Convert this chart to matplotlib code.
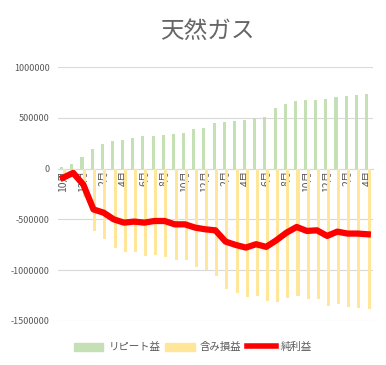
import numpy as np
import matplotlib
matplotlib.use('Agg')
import matplotlib.pyplot as plt
from matplotlib.patches import Patch
from matplotlib.lines import Line2D

plt.rcParams['font.family'] = ['Noto Sans CJK JP', 'DejaVu Sans']

# months, Oct -> Apr (31 months)
months = ['10月', '11月', '12月', '1月', '2月', '3月', '4月', '5月', '6月', '7月', '8月', '9月',
          '10月', '11月', '12月', '1月', '2月', '3月', '4月', '5月', '6月', '7月', '8月', '9月',
          '10月', '11月', '12月', '1月', '2月', '3月', '4月']

# リピート益
repeat = [20000, 50000, 118000, 196000, 245000, 277000, 287000, 297000, 324000, 324000,
          336000, 346000, 356000, 392000, 402000, 454000, 464000, 474000, 483000, 500000,
          510000, 601000, 640000, 669000, 679000, 679000, 689000, 709000, 718000, 728000,
          738000]

# 含み損益
unrealized = [-110000, -92000, -275000, -615000, -689000, -787000, -826000, -826000, -865000,
              -855000, -875000, -904000, -904000, -973000, -997000, -1062000, -1186000,
              -1228000, -1268000, -1258000, -1300000, -1310000, -1277000, -1251000, -1284000,
              -1284000, -1349000, -1333000, -1365000, -1375000, -1382000]

# 純利益
net = [-90000, -42000, -157000, -402000, -434000, -500000, -532000, -522000, -532000,
       -516000, -516000, -549000, -549000, -581000, -598000, -608000, -719000, -752000,
       -778000, -745000, -771000, -706000, -631000, -575000, -614000, -608000, -663000,
       -621000, -640000, -640000, -647000]

yticks = [1000000, 500000, 0, -500000, -1000000, -1500000]

green = '#c5e0b4'
yellow = '#ffe699'
gray = '#595959'

fig = plt.figure(figsize=(3.86, 3.65), dpi=100)
ax = fig.add_axes([0.150, 0.121, 0.816, 0.695])

x = np.arange(len(months))
w = 0.3
ax.bar(x - 0.13, repeat, width=w, color=green, zorder=2)
ax.bar(x + 0.13, unrealized, width=w, color=yellow, zorder=2)
ax.plot(x, net, color='#ff0000', lw=4.5, zorder=4, solid_joinstyle='round')

ax.set_xlim(-0.5, len(months) - 0.5)
ax.set_ylim(-1500000, 1000000)
ax.set_yticks(yticks)
ax.set_yticklabels([str(v) for v in yticks])
ax.yaxis.grid(True, color='#d9d9d9', lw=0.8, zorder=0)
ax.tick_params(axis='y', length=0, labelsize=6.5, labelcolor=gray, pad=6)

for s in ['top', 'right', 'left']:
    ax.spines[s].set_visible(False)
ax.spines['bottom'].set_position(('data', 0))
ax.spines['bottom'].set_color('#d9d9d9')
ax.spines['bottom'].set_zorder(1)

ax.set_xticks(x[::2])
ax.set_xticklabels(months[::2], rotation=90, va='top', ha='center')
ax.tick_params(axis='x', length=0, labelsize=7.5, labelcolor=gray, pad=1)
for lbl in ax.get_xticklabels():
    lbl.set_zorder(3)

fig.text(0.537, 0.915, '天然ガス', ha='center', va='center', fontsize=17, color='#666666')

handles = [Patch(color=green), Patch(color=yellow), Line2D([0], [0], color='#ff0000', lw=4)]
fig.legend(handles, ['リピート益', '含み損益', '純利益'], loc='center', ncol=3,
           bbox_to_anchor=(0.5, 0.049), frameon=False, fontsize=7.5, labelcolor=gray,
           handlelength=2.8, handleheight=0.8, columnspacing=0.5, handletextpad=0.5)

fig.savefig('out.png', dpi=100)
